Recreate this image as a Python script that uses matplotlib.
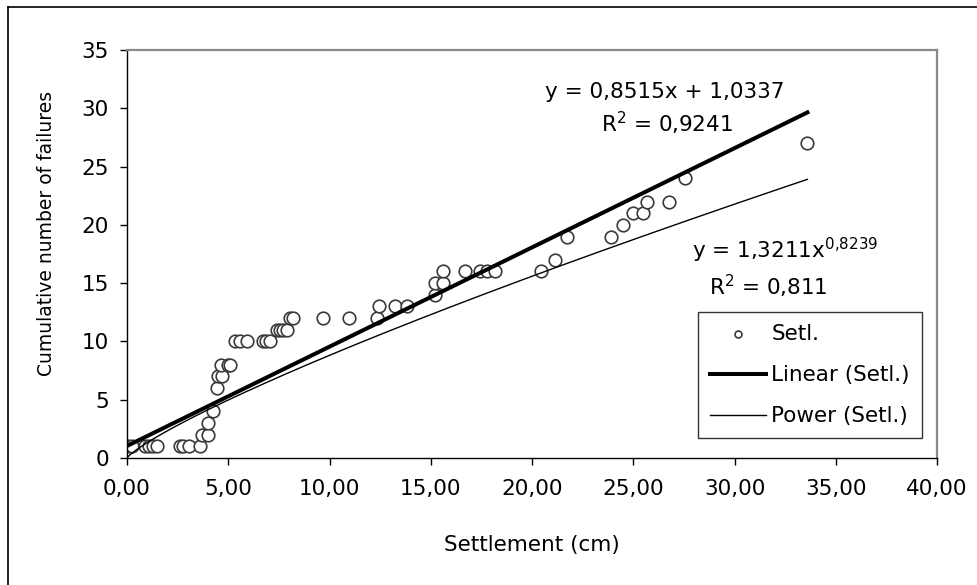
import numpy as np
import matplotlib.pyplot as plt
from matplotlib.lines import Line2D
from matplotlib.ticker import FuncFormatter, MultipleLocator

plt.rcParams['font.family'] = ['DejaVu Sans']

# settlement (cm) against cumulative number of failures
settlement = [0.05, 0.25, 0.9, 1.1, 1.3, 1.5, 2.6, 2.75, 3.05, 3.6,
              3.7, 4.0, 4.02, 4.26, 4.43, 4.51, 4.67, 4.63, 5.0, 5.1,
              5.33, 5.58, 5.91, 6.73, 6.85, 7.06, 7.39, 7.56, 7.7, 7.89,
              8.05, 8.18, 9.7, 10.96, 12.33, 12.46, 13.23, 13.81, 15.21, 15.21,
              15.59, 15.59, 16.69, 17.43, 17.76, 18.17, 20.43, 21.14, 21.74, 23.9,
              24.51, 25.0, 25.5, 25.66, 26.77, 27.57, 33.6]
failures = [1, 1, 1, 1, 1, 1, 1, 1, 1, 1,
            2, 2, 3, 4, 6, 7, 7, 8, 8, 8,
            10, 10, 10, 10, 10, 10, 11, 11, 11, 11,
            12, 12, 12, 12, 12, 13, 13, 13, 14, 15,
            15, 16, 16, 16, 16, 16, 16, 17, 19, 19,
            20, 21, 21, 22, 22, 24, 27]

# trendline coefficients
lin_a, lin_b, lin_r2 = 0.8515, 1.0337, 0.9241
pow_a, pow_b, pow_r2 = 1.3211, 0.8239, 0.811


def dec(v, n):
    return f"{v:.{n}f}".replace('.', ',')


fig = plt.figure(figsize=(9.78, 5.85), dpi=100)
ax = fig.add_axes([127 / 978, 1 - 458 / 585, 810 / 978, 408 / 585])

xs = np.linspace(min(settlement), max(settlement), 300)
ax.scatter(settlement, failures, s=82, facecolors='white', edgecolors='#3a3a3a',
           linewidths=1.2, zorder=2, label='Setl.')
ax.plot(xs, lin_a * xs + lin_b, color='black', lw=2.9, zorder=3, label='Linear (Setl.)')
ax.plot(xs, pow_a * xs ** pow_b, color='black', lw=1.0, zorder=3, label='Power (Setl.)')

ax.text(26.57, 31.4, f"y = {dec(lin_a, 4)}x + {dec(lin_b, 4)}", fontsize=15.5,
        ha='center', va='center')
ax.text(26.65, 28.7, r"R$\mathregular{^2}$ = " + dec(lin_r2, 4), fontsize=15.5,
        ha='center', va='center')
exp_txt = dec(pow_b, 4).replace(',', '{,}')
ax.text(32.5, 17.8, "y = " + dec(pow_a, 4) + "x$\\mathregular{^{" + exp_txt + "}}$",
        fontsize=15.5, ha='center', va='center')
ax.text(31.65, 14.7, r"R$\mathregular{^2}$ = " + dec(pow_r2, 3), fontsize=15.5,
        ha='center', va='center')

ax.set_xlim(0, 40)
ax.set_ylim(0, 35)
ax.xaxis.set_major_locator(MultipleLocator(5))
ax.yaxis.set_major_locator(MultipleLocator(5))
ax.xaxis.set_major_formatter(FuncFormatter(lambda v, p: dec(v, 2)))
ax.tick_params(direction='out', length=5, width=1, labelsize=15.5, colors='black')
ax.tick_params(axis='x', pad=10)
ax.tick_params(axis='y', pad=8)

for side in ['top', 'right']:
    ax.spines[side].set_color('#8a8a8a')
    ax.spines[side].set_linewidth(1.6)
for side in ['left', 'bottom']:
    ax.spines[side].set_color('black')
    ax.spines[side].set_linewidth(1.0)

ax.set_xlabel('Settlement (cm)', fontsize=15.5, va='center')
ax.xaxis.set_label_coords(0.5, -0.213)
ax.set_ylabel('Cumulative number of failures', fontsize=13.5, va='center')
ax.yaxis.set_label_coords(-0.099, 0.551)

leg = ax.legend(loc='lower right', bbox_to_anchor=(0.981, 0.049), borderaxespad=0,
                fontsize=15.5, frameon=True, fancybox=False, edgecolor='black',
                markerscale=0.55, handlelength=2.6, handletextpad=0.25,
                borderpad=0.55, labelspacing=0.98)
leg.get_frame().set_linewidth(1.0)

# outer chart frame
fig.add_artist(Line2D([8 / 978, 8 / 978], [0, 1 - 7 / 585], color='black', lw=1.2))
fig.add_artist(Line2D([8 / 978, 1], [1 - 7 / 585, 1 - 7 / 585], color='black', lw=1.2))

fig.savefig('out.png', dpi=100)
